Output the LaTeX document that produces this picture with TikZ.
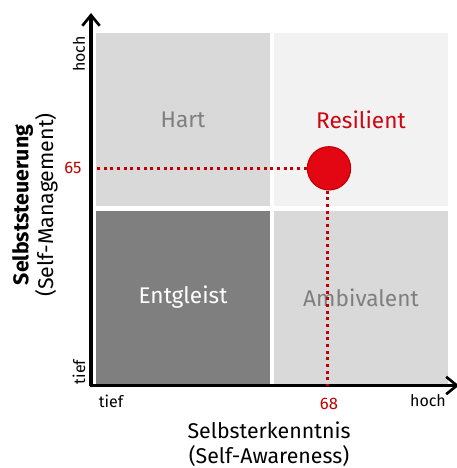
\documentclass[tikz,border=0pt]{standalone}
\usepackage{fontspec}
\setmainfont{Fira Sans}
\usetikzlibrary{arrows.meta}
\definecolor{feldhell}{HTML}{D9D9D9}
\definecolor{feldweiss}{HTML}{F2F2F2}
\definecolor{felddunkel}{HTML}{7F7F7F}
\definecolor{punktrot}{HTML}{E30613}
\definecolor{wertrot}{HTML}{C00000}

\begin{document}
\begin{tikzpicture}[x=0.75pt,y=-0.75pt,
        feld/.style={inner sep=0pt, minimum width=130.5pt, minimum height=130.1pt, font=\fontsize{17}{20}\selectfont},
        achse/.style={line width=2.3pt, -{Straight Barb[length=8pt,width=13pt,line width=2pt]}},
        hilfslinie/.style={draw=wertrot, line width=2.2pt, dash pattern=on 2.4pt off 2.6pt},
        wert/.style={text=wertrot, font=\fontsize{12.5}{14}\selectfont},
        stufe/.style={font=\fontsize{12}{14}\selectfont},
        titel/.style={align=center, font=\fontsize{16}{18.5}\selectfont}]
        \useasboundingbox (0,0) rectangle (457,468);
        % vier Felder
        \node[feld, fill=feldhell, text=felddunkel] (hart) at (183,119.5) {Hart};
        \node[feld, fill=feldweiss, text=punktrot!90!black] (resilient) at (361,119.5) {Resilient};
        \node[feld, fill=felddunkel, text=white] (entgleist) at (183,297.3) {Entgleist};
        \node[feld, fill=feldhell, text=felddunkel] (ambivalent) at (361,297.3) {Ambivalent};
        % Achsen
        \coordinate (o) at (91,385.5);
        \coordinate (yend) at (91,13);
        \coordinate (xend) at (459,385.5);
        \draw[achse] (o) -- (yend);
        \draw[achse] ([xshift=-1.1pt]o) -- (xend);
        % Messpunkt
        \node[circle, fill=punktrot, draw=wertrot, line width=0.8pt, minimum size=32.5pt, inner sep=0pt] (pkt) at (329,168.3) {};
        \draw[hilfslinie] (pkt.west) -- (pkt.west -| hart.west);
        \draw[hilfslinie] ([xshift=-1pt]pkt.south) -- ([xshift=-1pt]pkt.south |- o);
        \node[wert] (w65) at (73,168) {65};
        \node[wert] (w68) at (329,404) {68};
        % Stufen
        \node[stufe] (xtief) at (111,401) {tief};
        \node[stufe] (xhoch) at (428,401) {hoch};
        \node[stufe, rotate=90] (ytief) at (79,372) {tief};
        \node[stufe, rotate=90] (yhoch) at (79,54) {hoch};
        % Beschriftung
        \node[titel] (xtitel) at (269,444) {Selbsterkenntnis\\(Self-Awareness)};
        \node[titel, rotate=90] (ytitel) at (35,205) {\textbf{Selbststeuerung}\\(Self-Management)};
    \end{tikzpicture}
\end{document}
